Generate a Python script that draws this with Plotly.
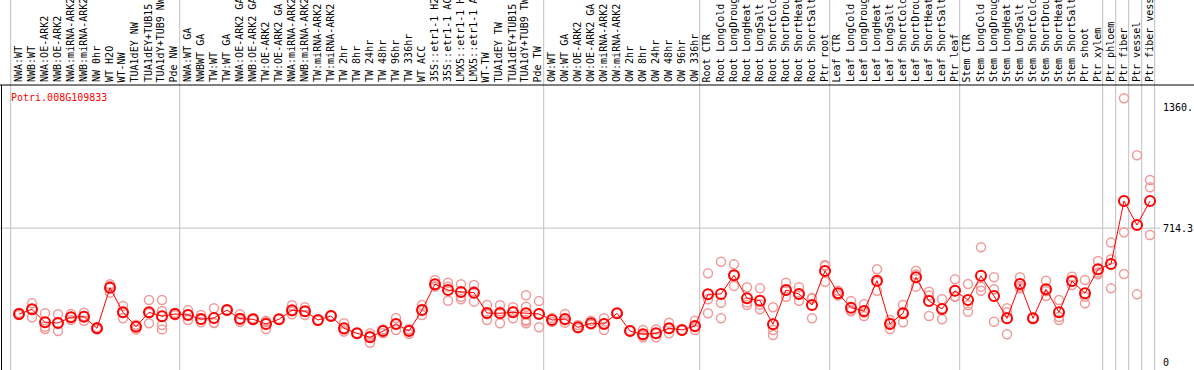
import plotly.graph_objects as go

categories = [
    "NWA:WT", "NWB:WT", "NWA:OE-ARK2", "NWB:OE-ARK2", "NWA:miRNA-ARK2", "NWB:miRNA-ARK2",
    "NW 0hr", "WT H2O", "WT-NW", "TUA1dEY NW", "TUA1dEY+TUB15", "TUA1dY+TUB9 NW", "Pde NW",
    "NWA:WT GA", "NWBWT GA", "TW:WT", "TW:WT GA", "NWA:OE-ARK2 GA", "NWB:OE-ARK2 GA",
    "TW:OE-ARK2", "TW:OE-ARK2 GA", "NWA:miRNA-ARK2", "NWB:miRNA-ARK2", "TW:miRNA-ARK2",
    "TW:miRNA-ARK2", "TW 2hr", "TW 8hr", "TW 24hr", "TW 48hr", "TW 96hr", "TW 336hr",
    "WT ACC", "35S::etr1-1 H2", "35S::etr1-1 AC", "LMX5::etr1-1 H", "LMX5::etr1-1 A",
    "WT-TW", "TUA1dEY TW", "TUA1dEY+TUB15", "TUA1dY+TUB9 TW", "Pde TW",
    "OW:WT", "OW:WT GA", "OW:OE-ARK2", "OW:OE-ARK2 GA", "OW:miRNA-ARK2", "OW:miRNA-ARK2",
    "OW 2hr", "OW 8hr", "OW 24hr", "OW 48hr", "OW 96hr", "OW 336hr",
    "Root CTR", "Root LongCold", "Root LongDroug", "Root LongHeat", "Root LongSalt",
    "Root ShortCold", "Root ShortDrou", "Root ShortHeat", "Root ShortSalt", "Ptr root",
    "Leaf CTR", "Leaf LongCold", "Leaf LongDroug", "Leaf LongHeat", "Leaf LongSalt",
    "Leaf ShortCold", "Leaf ShortDrou", "Leaf ShortHeat", "Leaf ShortSalt", "Ptr leaf",
    "Stem CTR", "Stem LongCold", "Stem LongDroug", "Stem LongHeat", "Stem LongSalt",
    "Stem ShortCold", "Stem ShortDrou", "Stem ShortHeat", "Stem ShortSalt", "Ptr shoot",
    "Ptr xylem", "Ptr phloem", "Ptr fiber", "Ptr vessel", "Ptr fiber vess",
]

means = [
    256, 281, 212, 208, 239, 242, 180, 396, 265, 188, 265, 244, 256,
    251, 229, 235, 277, 231, 228, 203, 228, 276, 271, 224, 245, 180, 153, 132,
    165, 203, 165, 277, 415, 384, 374, 370, 261, 260, 265, 260, 256,
    224, 229, 185, 207, 203, 260, 165, 148, 153, 180, 171, 192,
    361, 363, 463, 340, 327, 201, 384, 363, 304, 486,
    367, 290, 272, 434, 203, 260, 452, 325, 283, 380,
    331, 460, 352, 233, 416, 233, 388, 265, 432, 367,
    495, 523, 859, 731, 859,
]

replicates = [
    [263, 251, 256], [313, 239, 283], [260, 188, 176], [255, 165, 208], [256, 224, 240],
    [263, 220, 245], [185, 175, 180], [415, 405, 370], [299, 233, 263], [199, 174, 190],
    [331, 207, 260], [331, 272, 197, 174], [263, 250],
    [277, 224, 252], [251, 212, 225], [287, 210, 208], [277, 275], [255, 213, 226],
    [232, 224], [220, 176, 213], [228, 230], [303, 255, 270], [292, 251, 270],
    [224, 220], [245, 248], [207, 162, 171], [153, 155], [103, 140, 153],
    [174, 153, 168], [235, 171, 203], [176, 149, 170], [304, 251, 276],
    [438, 402, 405], [423, 327, 402], [415, 348, 335], [411, 322, 378],
    [304, 224, 255], [303, 207, 270], [292, 233, 270], [356, 295, 224, 207, 218],
    [325, 185, 258],
    [235, 214], [256, 210, 222], [197, 180], [220, 200], [233, 171, 205], [260, 262],
    [165, 168], [171, 132, 142], [174, 132, 153], [210, 153, 178], [171, 168],
    [220, 171, 186],
    [473, 335, 260], [535, 316, 233], [521, 406, 463], [399, 304, 318], [393, 281, 307],
    [292, 171, 144], [423, 348, 380], [399, 327, 363], [342, 233, 337], [512, 428, 518],
    [380, 355, 367], [325, 274, 271], [309, 245, 262], [495, 380, 427], [224, 176, 209],
    [304, 212, 264], [487, 402, 467], [375, 245, 355], [335, 228, 286], [441, 348, 351],
    [416, 304, 268], [612, 402, 380], [452, 388, 215], [287, 148, 265], [452, 393, 403],
    [233, 236], [434, 352, 378], [331, 224, 240], [455, 411, 430], [438, 348, 313],
    [539, 477, 468], [637, 548, 393], [1407, 692, 470], [1103, 361], [971, 932, 678],
]

group_sizes = [13, 28, 12, 10, 10, 11, 1, 1, 1, 1]
ytick_vals = [0, 714.3, 1360]
ytick_text = ["0", "714.3", "1360."]
gene_id = "Potri.008G109833"

W, H = 1194, 370
FONT = "DejaVu Sans Mono"

xs = list(range(len(categories)))
rep_x, rep_y = [], []
for i, reps in enumerate(replicates):
    for v in reps:
        rep_x.append(i)
        rep_y.append(v)

fig = go.Figure()
fig.add_trace(go.Scatter(
    x=rep_x, y=rep_y, mode="markers",
    marker=dict(symbol="circle-open", size=9, color="#f09a9a", line=dict(width=1.5, color="#f09a9a")),
    hoverinfo="skip", showlegend=False,
))
fig.add_trace(go.Scatter(
    x=xs, y=means, mode="lines+markers",
    line=dict(color="#ff0000", width=1),
    marker=dict(symbol="circle-open", size=10, color="#ff0000", line=dict(width=2, color="#ff0000")),
    text=categories, showlegend=False,
))

# column boundaries (vertical grid lines)
bounds = [0]
for g in group_sizes:
    bounds.append(bounds[-1] + g)
shapes = []
for b in bounds:
    shapes.append(dict(type="line", xref="x", yref="paper", x0=b - 0.64, x1=b - 0.64,
                       y0=0, y1=1, line=dict(color="#c0c0c0", width=1), layer="below"))
# horizontal grid at middle tick
shapes.append(dict(type="line", xref="paper", yref="y", x0=0, x1=1160 / W,
                   y0=ytick_vals[1], y1=ytick_vals[1], line=dict(color="#c0c0c0", width=1), layer="below"))
# header separator and left border
sep_y = (H - 85) / H
shapes.append(dict(type="line", xref="paper", yref="paper", x0=0, x1=1, y0=sep_y, y1=sep_y,
                   line=dict(color="black", width=1)))
shapes.append(dict(type="line", xref="paper", yref="paper", x0=1.5 / W, x1=1.5 / W, y0=0, y1=sep_y,
                   line=dict(color="black", width=1)))

annotations = []
for i, c in enumerate(categories):
    annotations.append(dict(x=i - 0.08, y=(H - 83) / H, xref="x", yref="paper", text=c,
                            textangle=-90, showarrow=False, xanchor="center", yanchor="bottom",
                            borderpad=0, font=dict(family=FONT, size=10, color="black")))
for v, t in zip(ytick_vals, ytick_text):
    annotations.append(dict(x=1162 / W, y=v, xref="paper", yref="y", text=t, showarrow=False,
                            xanchor="left", yanchor="middle", borderpad=0,
                            font=dict(family=FONT, size=10, color="black")))
annotations.append(dict(x=9.5 / W, y=1 - 97 / H, xref="paper", yref="paper", text=gene_id,
                        showarrow=False, xanchor="left", yanchor="middle", borderpad=0,
                        font=dict(family=FONT, size=10, color="#ff0000")))

fig.update_layout(
    width=W, height=H, margin=dict(l=0, r=0, t=0, b=0),
    paper_bgcolor="white", plot_bgcolor="white",
    xaxis=dict(visible=False, range=[(0 - 19) / 13, (W - 19) / 13], domain=[0, 1]),
    yaxis=dict(visible=False, range=[-42.7, 1478.1], domain=[0, (H - 85) / H]),
    shapes=shapes, annotations=annotations, showlegend=False,
)

fig.write_html("out.html", config={"displayModeBar": False},
               post_script="document.body.style.margin='0';document.body.style.overflow='hidden';")
